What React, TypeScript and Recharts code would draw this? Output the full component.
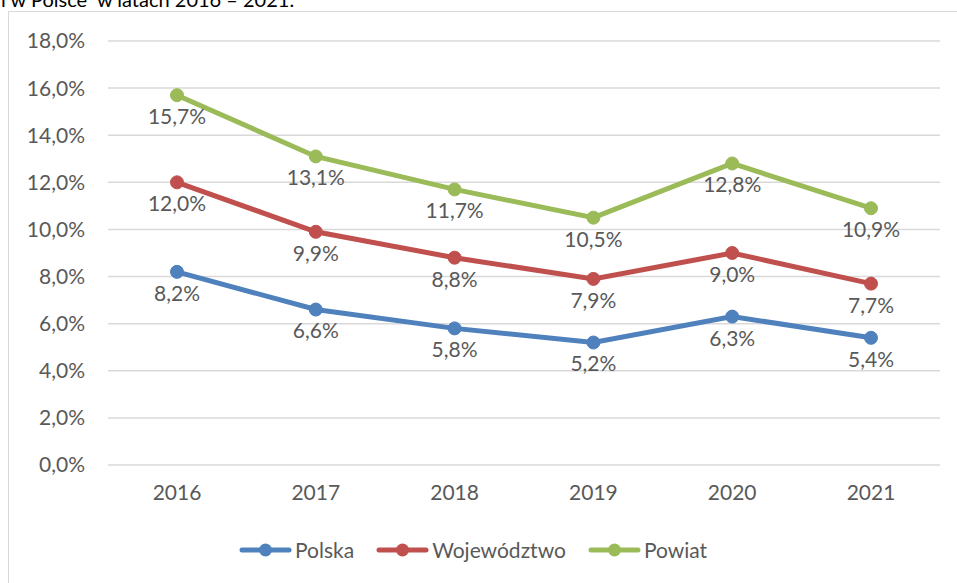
import React from 'react';
import { LineChart, Line, XAxis, YAxis, CartesianGrid, LabelList } from 'recharts';

const years = ['2016', '2017', '2018', '2019', '2020', '2021'];
const polska = [8.2, 6.6, 5.8, 5.2, 6.3, 5.4];
const wojewodztwo = [12.0, 9.9, 8.8, 7.9, 9.0, 7.7];
const powiat = [15.7, 13.1, 11.7, 10.5, 12.8, 10.9];
const yTicks = [0, 2, 4, 6, 8, 10, 12, 14, 16, 18];

const series = [
  { key: 'polska', name: 'Polska', color: '#4F81BD' },
  { key: 'wojewodztwo', name: 'Województwo', color: '#C0504D' },
  { key: 'powiat', name: 'Powiat', color: '#9BBB59' },
];

const FONT = 'Lato, "Open Sans", sans-serif';
const TEXT = '#595959';

const pct = (v: number) => v.toFixed(1).replace('.', ',') + '%';

export default function App() {
  const chartData = years.map((year, i) => ({
    year,
    polska: polska[i],
    wojewodztwo: wojewodztwo[i],
    powiat: powiat[i],
  }));

  return (
    <div style={{ position: 'absolute', left: 0, top: 0, width: 957, height: 583, overflow: 'hidden', background: '#fff', fontFamily: FONT }}>
      {/* caption cut off by the crop */}
      <div style={{ position: 'absolute', left: 1, top: -11, fontSize: 20, lineHeight: '20px', color: '#000', whiteSpace: 'pre' }}>
        {'i w Polsce  w latach 2016 – 2021.'}
      </div>
      <div style={{ position: 'absolute', left: 8, top: 11, width: 980, height: 600, border: '1.5px solid #D9D9D9', boxSizing: 'border-box' }} />
      <div style={{ position: 'absolute', left: 0, top: 0 }}>
        <LineChart width={957} height={583} data={chartData} margin={{ top: 41, right: 17, bottom: 68, left: 0 }}>
          <CartesianGrid vertical={false} stroke="#D9D9D9" strokeWidth={1.5} />
          <XAxis
            dataKey="year"
            axisLine={false}
            tickLine={false}
            tickSize={0}
            tickMargin={20}
            height={50}
            padding={{ left: 69, right: 69 }}
            tick={{ fill: TEXT, fontSize: 21, fontFamily: FONT }}
          />
          <YAxis
            domain={[0, 18]}
            ticks={yTicks}
            interval={0}
            width={108}
            axisLine={false}
            tickLine={false}
            tickSize={0}
            tickMargin={23}
            tickFormatter={(v: number) => pct(v)}
            tick={{ fill: TEXT, fontSize: 21, fontFamily: FONT }}
          />
          {series.map((s) => (
            <Line
              key={s.key}
              dataKey={s.key}
              name={s.name}
              stroke={s.color}
              strokeWidth={5}
              dot={{ r: 6.5, fill: s.color, stroke: s.color, strokeWidth: 1 }}
              activeDot={false}
              isAnimationActive={false}
            >
              <LabelList
                dataKey={s.key}
                position="bottom"
                offset={14}
                formatter={(v: number) => pct(v)}
                fill={TEXT}
                fontSize={21}
                fontFamily={FONT}
              />
            </Line>
          ))}
        </LineChart>
      </div>
      {/* legend */}
      <div style={{ position: 'absolute', left: 239, top: 536, display: 'flex', alignItems: 'center', gap: 22 }}>
        {series.map((s) => (
          <div key={s.key} style={{ display: 'flex', alignItems: 'center' }}>
            <svg width={53} height={16} style={{ marginRight: 3 }}>
              <line x1={3} y1={8} x2={50} y2={8} stroke={s.color} strokeWidth={5} strokeLinecap="round" />
              <circle cx={26.5} cy={8} r={6.5} fill={s.color} />
            </svg>
            <span style={{ fontSize: 21, color: TEXT, lineHeight: '28px' }}>{s.name}</span>
          </div>
        ))}
      </div>
    </div>
  );
}
